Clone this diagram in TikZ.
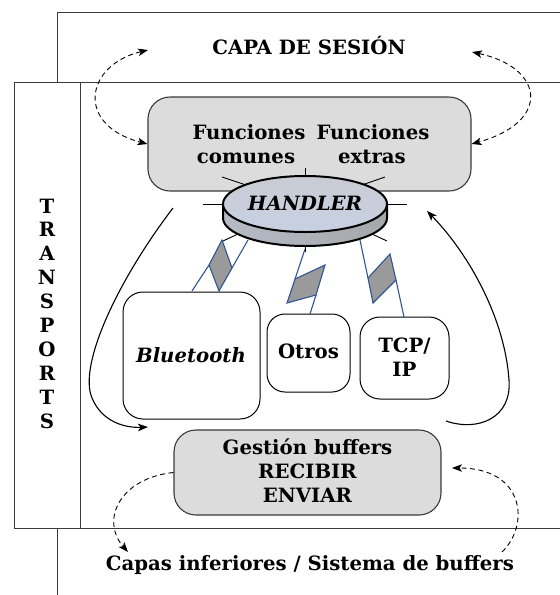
\documentclass[tikz,border=0pt]{standalone}
\usepackage{fontspec}
\setmainfont{DejaVu Serif}
\usetikzlibrary{arrows.meta}
\definecolor{panelgray}{HTML}{DCDCDC}
\definecolor{framecol}{HTML}{3A3A3A}
\definecolor{boltblue}{HTML}{2F5592}
\definecolor{boltfill}{HTML}{9A9A9A}
\definecolor{discleft}{HTML}{BEC2CB}
\definecolor{discright}{HTML}{C9CCD4}
\definecolor{discbottom}{HTML}{C8D0E2}
\definecolor{sideleft}{HTML}{B6BBC7}
\definecolor{sidemid}{HTML}{C9D3E9}
\definecolor{sideright}{HTML}{A6A7AB}

% lightning link: band P-Q-R-S plus the two leads T-P and R-B
\newcommand{\drawbolt}[6]{%
  \draw[boltband] #2 -- #3 -- #4 -- #5 -- cycle;
  \draw[boltline] #1 -- #2;
  \draw[boltline] #4 -- #6;
}

\begin{document}
\begin{tikzpicture}[x=1pt,y=-1pt,
  frame/.style={draw=framecol,line width=1pt},
  panel/.style={draw=framecol,line width=1.1pt,fill=panelgray,rounded corners=22pt,inner sep=0pt},
  linkbox/.style={draw=black,line width=1pt,fill=white,inner sep=0pt},
  txt/.style={font=\bfseries\fontsize{19.7pt}{24pt}\selectfont,inner sep=0pt,anchor=base},
  itxt/.style={font=\bfseries\itshape\fontsize{19.7pt}{24pt}\selectfont,inner sep=0pt,anchor=base},
  dasharrow/.style={dash pattern=on 5pt off 3.5pt,line width=0.9pt},
  flow/.style={line width=1.1pt},
  spoke/.style={line width=0.9pt},
  boltline/.style={draw=boltblue,line width=1.1pt},
  boltband/.style={draw=boltblue,fill=boltfill,line width=1.1pt,line join=miter},
  disc/.style={draw=black,line width=2pt},
  >={Stealth[length=10pt,width=7.5pt,inset=2.5pt]}
]
\useasboundingbox (0,0) rectangle (560,595);

% layer frames
\draw[frame] (560,12) -- (57,12) -- (57,82);
\draw[frame] (560,82) -- (14,82) -- (14,528) -- (560,528);
\draw[frame] (80,82) -- (80,528);
\draw[frame] (57,528) -- (57,595);

% layer titles
\node[txt] (sesion) at (309,54) {CAPA DE SESIÓN};
\node[txt] (inferiores) at (310,570) {Capas inferiores / Sistema de buffers};
\foreach \ch [count=\i from 0] in {T,R,A,N,S,P,O,R,T,S}
  \node[txt] (tr\i) at (47,213+23.9*\i) {\ch};

% function panel
\node[panel,minimum width=323pt,minimum height=94pt] (funcs) at (309.5,144) {};
\node[txt] (fcom1) at (249,139) {Funciones};
\node[txt] (fcom2) at (246,163) {comunes};
\node[txt] (fext1) at (373,139) {Funciones};
\node[txt] (fext2) at (372,163) {extras};

% buffer panel
\node[panel,minimum width=267pt,minimum height=85pt] (gest) at (307.5,472.5) {};
\node[txt] (gest1) at (307.5,454) {Gestión buffers};
\node[txt] (gest2) at (307.5,478) {RECIBIR};
\node[txt] (gest3) at (307.5,502) {ENVIAR};

% transport boxes
\node[linkbox,rounded corners=20pt,minimum width=137pt,minimum height=127pt] (bt) at (191.5,355.5) {};
\node[itxt] (btlabel) at (191,362) {Bluetooth};
\node[linkbox,rounded corners=18pt,minimum width=83pt,minimum height=78pt] (otros) at (308.5,353) {};
\node[txt] (otroslabel) at (308.5,358) {Otros};
\node[linkbox,rounded corners=20pt,minimum width=89pt,minimum height=82pt] (tcp) at (404.5,358) {};
\node[txt] (tcp1) at (404.5,352) {TCP/};
\node[txt] (tcp2) at (404.5,376) {IP};

% lightning links from the handler
\drawbolt{(248,240)}{(232,268)}{(222,240)}{(209,265)}{(219,291)}{(192,291)}
\drawbolt{(305,249)}{(295,279)}{(325,265)}{(316,295)}{(287,303)}{(310,314)}
\drawbolt{(360,240)}{(368,278)}{(390,254)}{(396,280)}{(373,303)}{(404,317)}

% handler spokes
\draw[spoke] (305,168) -- (305,177);
\draw[spoke] (222,177) -- (246,185);
\draw[spoke] (385,177) -- (362,185);
\draw[spoke] (203,204) -- (225,204);
\draw[spoke] (407,204) -- (385,204);
\draw[spoke] (223,241) -- (238,234);
\draw[spoke] (387,241) -- (372,234);
\draw[spoke] (305,245) -- (305,252);

% handler disc
\coordinate (hc) at (305,204);
\shade[left color=sideleft,middle color=sidemid,right color=sideright]
  (223,204) -- (223,218) arc[start angle=180,end angle=360,x radius=82pt,y radius=28pt]
  -- (387,204) arc[start angle=0,end angle=-180,x radius=82pt,y radius=28pt] -- cycle;
\draw[disc]
  (223,204) -- (223,218) arc[start angle=180,end angle=360,x radius=82pt,y radius=28pt]
  -- (387,204);
\shade[top color=discright,bottom color=discbottom] (hc) ellipse[x radius=82pt,y radius=28pt];
\draw[disc] (hc) ellipse[x radius=82pt,y radius=28pt];
\node[itxt] (handler) at (305,210) {HANDLER};

% session exchanges
\coordinate (sesL) at (148,50);
\coordinate (sesR) at (472,52);
\draw[dasharrow,<->] (sesL) .. controls (85,65) and (75,125) .. (funcs.west);
\draw[dasharrow,<->] (sesR) .. controls (545,68) and (551,122) .. (funcs.east);

% lower layer exchanges
\coordinate (infL) at (128,552);
\coordinate (infR) at (502,552);
\coordinate (gestR) at (452,468);
\draw[dasharrow,->] (gest.west) .. controls (120,478) and (100,520) .. (infL);
\draw[dasharrow,->] (infR) .. controls (530,525) and (525,468) .. (gestR);

% internal flow loops
\coordinate (loopLs) at (173,208);
\coordinate (loopLe) at (148,427);
\draw[flow,->] (loopLs) .. controls (118,280) and (78,365) .. (92,398)
  .. controls (102,422) and (125,428) .. (loopLe);
\coordinate (loopRs) at (446,421);
\coordinate (loopRe) at (427,211);
\draw[flow,->] (loopRs) .. controls (478,432) and (512,418) .. (509,380)
  .. controls (505,320) and (470,255) .. (loopRe);
\end{tikzpicture}
\end{document}
